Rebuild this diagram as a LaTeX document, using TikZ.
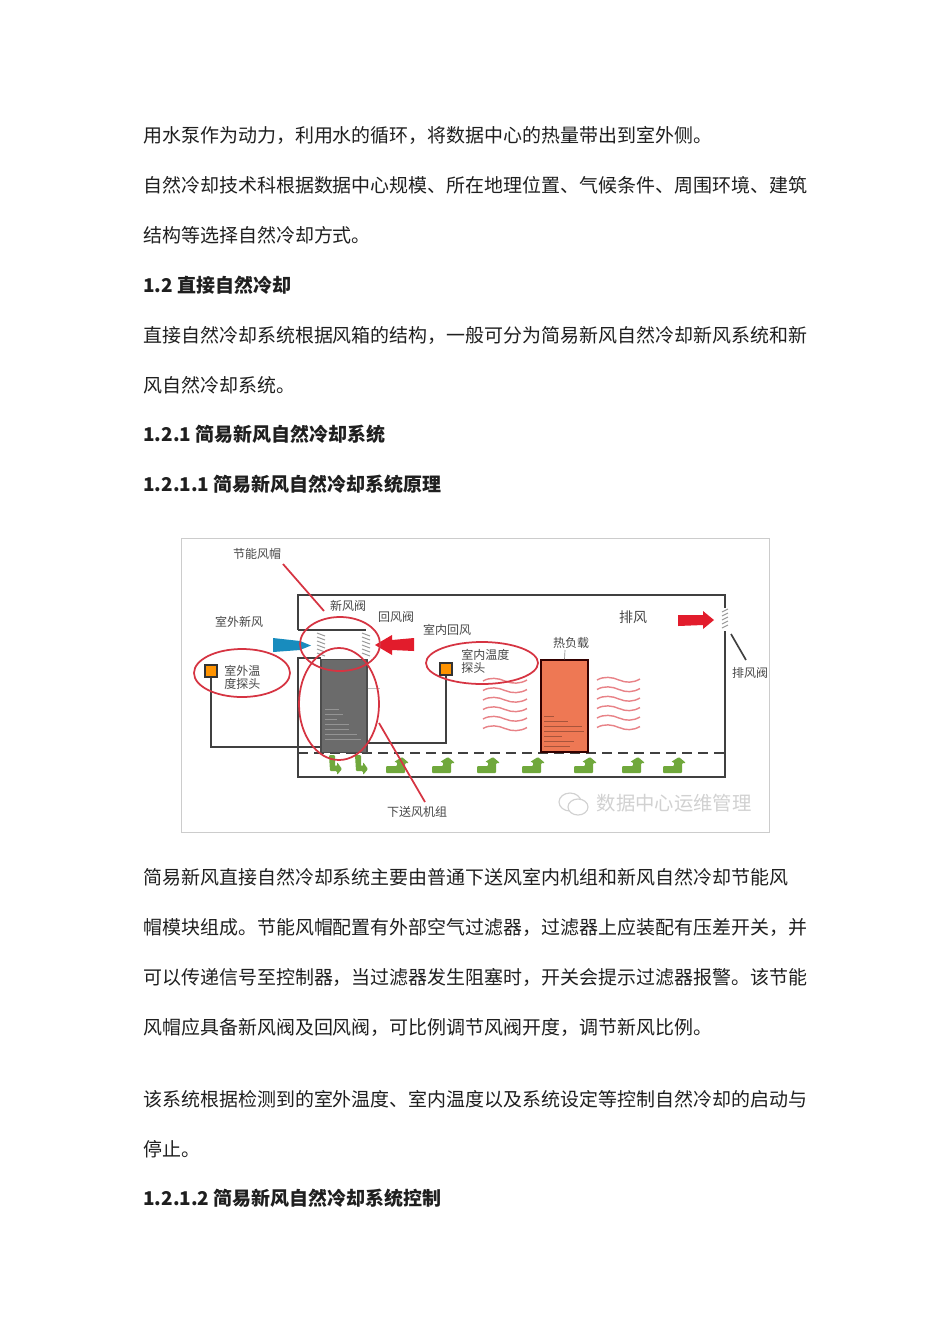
\documentclass[tikz,border=0pt]{standalone}
\usepackage{fontspec}
\usepackage{tikz}
\setmainfont{Noto Sans CJK SC}
\definecolor{markred}{RGB}{214,52,66}
\definecolor{wavered}{RGB}{232,130,135}
\definecolor{loadred}{RGB}{238,120,84}
\definecolor{flowgreen}{RGB}{112,168,60}
\definecolor{airblue}{RGB}{24,140,190}
\definecolor{airred}{RGB}{226,28,44}
\tikzset{
  para/.style={anchor=west,inner sep=0pt,text=black!88,font=\fontsize{11.38pt}{13pt}\selectfont},
  head/.style={para,font=\fontsize{11.38pt}{13pt}\selectfont\bfseries},
  lab/.style={inner sep=0pt,text=black!72,font=\fontsize{7.2pt}{8.2pt}\selectfont},
  wall/.style={draw=black!75,line width=1.3pt},
  ring/.style={draw=markred,line width=1.05pt},
  wave/.style={draw=wavered,line width=0.85pt},
  sensor/.style={draw=black!80,fill=orange!85!yellow,line width=0.9pt,minimum size=7pt,inner sep=0pt},
  louver/.style={draw=black!40,line width=0.6pt},
  flow/.style={fill=flowgreen,draw=none},
}
\begin{document}
\begin{tikzpicture}[x=0.6pt,y=-0.6pt]
\useasboundingbox (0,0) rectangle (950,1344);
\fill[white] (0,0) rectangle (950,1344);

\node[para] (p1) at (143,135) {用水泵作为动力，利用水的循环，将数据中心的热量带出到室外侧。};
\node[para] (p2) at (143,185) {自然冷却技术科根据数据中心规模、所在地理位置、气候条件、周围环境、建筑};
\node[para] (p3) at (143,235) {结构等选择自然冷却方式。};
\node[head] (h1) at (143,285) {1.2 直接自然冷却};
\node[para] (p4) at (143,335) {直接自然冷却系统根据风箱的结构，一般可分为简易新风自然冷却新风系统和新};
\node[para] (p5) at (143,385) {风自然冷却系统。};
\node[head] (h2) at (143,434) {1.2.1 简易新风自然冷却系统};
\node[head] (h3) at (143,484) {1.2.1.1 简易新风自然冷却系统原理};

\node[para] (p6) at (143,877) {简易新风直接自然冷却系统主要由普通下送风室内机组和新风自然冷却节能风};
\node[para] (p7) at (143,927) {帽模块组成。节能风帽配置有外部空气过滤器，过滤器上应装配有压差开关，并};
\node[para] (p8) at (143,977) {可以传递信号至控制器，当过滤器发生阻塞时，开关会提示过滤器报警。该节能};
\node[para] (p9) at (143,1027) {风帽应具备新风阀及回风阀，可比例调节风阀开度，调节新风比例。};
\node[para] (p10) at (143,1099) {该系统根据检测到的室外温度、室内温度以及系统设定等控制自然冷却的启动与};
\node[para] (p11) at (143,1149) {停止。};
\node[head] (h4) at (143,1198) {1.2.1.2 简易新风自然冷却系统控制};

% frame of the figure
\draw[black!20,line width=0.6pt] (181,538) rectangle (769,832);

% watermark
\node[inner sep=0pt,text=black!18,font=\fontsize{11.6pt}{13pt}\selectfont] (mark) at (674,803) {数据中心运维管理};
\draw[black!18,line width=0.7pt] (570,802) ellipse (11 and 9);
\draw[black!18,line width=0.7pt,fill=white] (578,807) ellipse (10 and 8);

% building
\draw[wall] (298,630) -- (298,595) -- (725,595) -- (725,608);
\draw[wall] (298,630) -- (366,630);
\draw[wall] (321,658) -- (298,658) -- (298,777) -- (725,777) -- (725,631);
\draw[black!75,line width=1.5pt,dash pattern=on 6pt off 3.6pt] (298,753) -- (725,753);

% units
\node[draw=black!70,fill=black!58,line width=0.8pt,minimum width=27.5pt,minimum height=56pt,inner sep=0pt] (unit) at (344,706) {};
\node[draw=black!80!red,fill=loadred,line width=1.1pt,minimum width=28pt,minimum height=55pt,inner sep=0pt] (load) at (564.5,706) {};
\foreach \y/\w in {709/14,714/18,719/12,724/24,729/24,734/32,739/36}
  \draw[black!42,line width=0.25pt] (325,\y) -- ++(\w,0);
\foreach \y/\w in {716/10,721/24,726/38,731/40,736/18,741/30,746/26}
  \draw[loadred!70!black,line width=0.25pt] (544,\y) -- ++(\w,0);
\draw[black!45,line width=0.4pt] (565,650) -- (load.north);
\draw[black!25,line width=0.4pt] (unit.east |- 0,688) -- (380,688);

% louvers
\foreach \y in {633,637,...,653} {
  \draw[louver] (317,\y) -- (325,\y+3);
  \draw[louver] (362,\y) -- (370,\y+3);
}
\foreach \y in {609,613,...,627}
  \draw[louver] (722,\y+3) -- (728,\y);

% air arrows
\fill[airblue] (273,638) -- (300,641) -- (311,645.5) -- (300,650) -- (273,652) -- cycle;
\fill[airred] (414,638) -- (392,640) -- (392,635) -- (375,645) -- (392,655) -- (392,650) -- (414,651) -- cycle;
\fill[airred] (678,615) -- (703,615) -- (703,611) -- (714,620) -- (703,629) -- (703,625) -- (678,626) -- cycle;
\draw[black!75,line width=1pt] (731,634) -- (746,660);

% sensors
\node[sensor] (outT) at (211,671) {};
\node[sensor] (inT) at (446,669) {};
\draw[black!75,line width=0.9pt] (outT.south) |- (unit.west |- 0,747);
\draw[black!75,line width=0.9pt] (inT.south) |- (unit.east |- 0,743);

% waves
\foreach \y in {681,690.5,...,729} {
  \draw[wave] (483,\y) .. controls (490,\y-4) and (498,\y-3) .. (505,\y) .. controls (512,\y+3) and (520,\y+3) .. (527,\y-1);
  \draw[wave] (597,\y-1) .. controls (604,\y-5) and (612,\y-4) .. (619,\y-1) .. controls (626,\y+2) and (633,\y+2) .. (640,\y-2);
}

% flow arrows
\foreach \x in {386,432,477,522,574,622,663}
  \fill[flow,rounded corners=0.6pt,shift={(\x,0)}] (0,773) -- (0,766) -- (11,766) -- (11,762) -- (8,762) -- (16,757) -- (23,763) -- (19,763) -- (19,773) -- cycle;
\foreach \x in {329,355}
  \fill[flow,rounded corners=0.6pt,shift={(\x,0)}] (0,755) -- (6,755) -- (6,766) -- (8,766) -- (8,762) -- (13,769) -- (8,775) -- (8,771) -- (1,771) -- cycle;

% red marks
\draw[ring] (242,673) ellipse (48 and 24);
\draw[ring] (340,644) ellipse (40 and 27);
\draw[ring] (339,704) ellipse (40 and 56);
\draw[ring] (482,663) ellipse (56 and 21);
\draw[ring] (283,564) -- (324,611);
\draw[ring] (379,723) -- (425,802);

% labels
\node[lab] (l1) at (257,554) {节能风帽};
\node[lab] (l2) at (348,606) {新风阀};
\node[lab] (l3) at (396,617) {回风阀};
\node[lab] (l4) at (239,622) {室外新风};
\node[lab] (l5) at (447,630) {室内回风};
\node[lab,anchor=west] (l6) at (224,671) {室外温};
\node[lab,anchor=west] (l7) at (224,684) {度探头};
\node[lab,anchor=west] (l8) at (461,655) {室内温度};
\node[lab,anchor=west] (l9) at (461,668) {探头};
\node[lab] (l10) at (417,812) {下送风机组};
\node[lab,font=\fontsize{8.4pt}{10pt}\selectfont] (l11) at (633,617) {排风};
\node[lab] (l12) at (571,643) {热负载};
\node[lab] (l13) at (750,673) {排风阀};

\end{tikzpicture}
\end{document}
